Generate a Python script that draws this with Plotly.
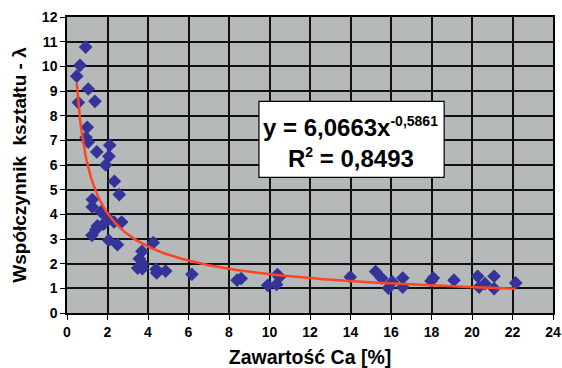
import numpy as np
import plotly.graph_objects as go

# Measured calcium content [%] and shape coefficient (lambda)
ca_content = [0.92, 0.64, 0.48, 1.05, 0.56, 1.38, 1.00, 0.94, 1.05, 1.47, 2.11, 2.07, 1.91,
              2.34, 2.58, 1.25, 1.25, 1.68, 1.96, 2.32, 2.70, 1.80, 1.50, 1.43, 1.23, 2.06,
              2.49, 4.26, 3.70, 3.57, 3.74, 3.49, 3.72, 4.40, 4.43, 4.87, 6.17,
              8.40, 8.60, 10.39, 10.49, 9.91, 10.35, 13.99,
              15.24, 15.54, 15.87, 16.06, 16.58, 16.58, 17.98, 18.09, 19.11,
              20.28, 20.35, 20.64, 21.09, 21.09, 22.16]
shape_coef = [10.78, 10.04, 9.60, 9.08, 8.53, 8.58, 7.53, 7.11, 6.93, 6.53, 6.80, 6.35, 6.00,
              5.34, 4.80, 4.60, 4.30, 4.10, 3.90, 3.69, 3.69, 3.60, 3.53, 3.39, 3.15, 2.95,
              2.77, 2.85, 2.50, 2.20, 2.00, 1.82, 1.80, 1.77, 1.62, 1.70, 1.57,
              1.33, 1.40, 1.56, 1.46, 1.12, 1.16, 1.46,
              1.68, 1.41, 1.01, 1.26, 1.42, 1.05, 1.30, 1.42, 1.33,
              1.49, 1.05, 1.19, 1.49, 0.99, 1.22]

# Power-law trend: y = a * x^b
fit_a = 6.0663
fit_b = -0.5861
fit_r2 = 0.8493

x_ticks = list(range(0, 25, 2))
y_ticks = list(range(0, 13, 1))

x_fit = np.linspace(min(ca_content), max(ca_content), 400)
y_fit = fit_a * x_fit ** fit_b

font_family = "Liberation Sans, Arial, sans-serif"

fig = go.Figure()
fig.add_trace(go.Scatter(
    x=ca_content, y=shape_coef, mode="markers",
    marker=dict(symbol="diamond", size=10.5, color="#33339A", line=dict(width=0)),
    showlegend=False, cliponaxis=False,
))
fig.add_trace(go.Scatter(
    x=x_fit, y=y_fit, mode="lines",
    line=dict(color="#FF4422", width=2.5),
    showlegend=False,
))

# Equation box with the fitted formula and R²
fmt = lambda v: f"{v:.4f}".replace(".", ",")
sup = lambda s: f'<sup><span style="font-size:14px">{s}</span></sup>'
fig.add_shape(
    type="rect", xref="paper", yref="paper",
    x0=0.395, x1=0.776, y0=0.458, y1=0.715,
    fillcolor="white", line=dict(color="black", width=1.2), layer="above",
)
fig.add_annotation(
    xref="paper", yref="paper", x=0.583, y=0.627, xanchor="center", yanchor="middle",
    text=f"<b>y = {fmt(fit_a)}x{sup(fmt(fit_b))}</b>",
    showarrow=False, font=dict(family=font_family, size=24, color="black"),
)
fig.add_annotation(
    xref="paper", yref="paper", x=0.584, y=0.523, xanchor="center", yanchor="middle",
    text=f"<b>R{sup('2')} = {fmt(fit_r2)}</b>",
    showarrow=False, font=dict(family=font_family, size=24, color="black"),
)

fig.update_layout(
    width=562, height=368,
    margin=dict(l=67, r=9, t=17, b=55),
    paper_bgcolor="white", plot_bgcolor="#B5B9B9",
    font=dict(family=font_family, size=14, color="black"),
    xaxis=dict(
        range=[0, 24], tickvals=x_ticks, ticks="outside", ticklen=5,
        tickwidth=1, tickcolor="black", automargin=False,
        showgrid=True, gridcolor="#111111", gridwidth=1.5,
        showline=True, linecolor="black", linewidth=1.5, mirror=True,
        zeroline=False,
        tickfont=dict(family=font_family, size=14, color="black", weight="bold"),
        title=dict(text="<b>Zawartość Ca [%]</b>", standoff=13,
                   font=dict(family=font_family, size=19.5, color="black")),
    ),
    yaxis=dict(
        range=[0, 12], tickvals=y_ticks, ticks="outside", ticklen=5,
        tickwidth=1, tickcolor="black", automargin=False,
        showgrid=True, gridcolor="#111111", gridwidth=1.5,
        showline=True, linecolor="black", linewidth=1.5, mirror=True,
        zeroline=False,
        tickfont=dict(family=font_family, size=14, color="black", weight="bold"),
        title=dict(text="<b>Współczynnik  kształtu - λ</b>", standoff=10,
                   font=dict(family=font_family, size=19, color="black")),
    ),
)

fig.write_html("out.html")
